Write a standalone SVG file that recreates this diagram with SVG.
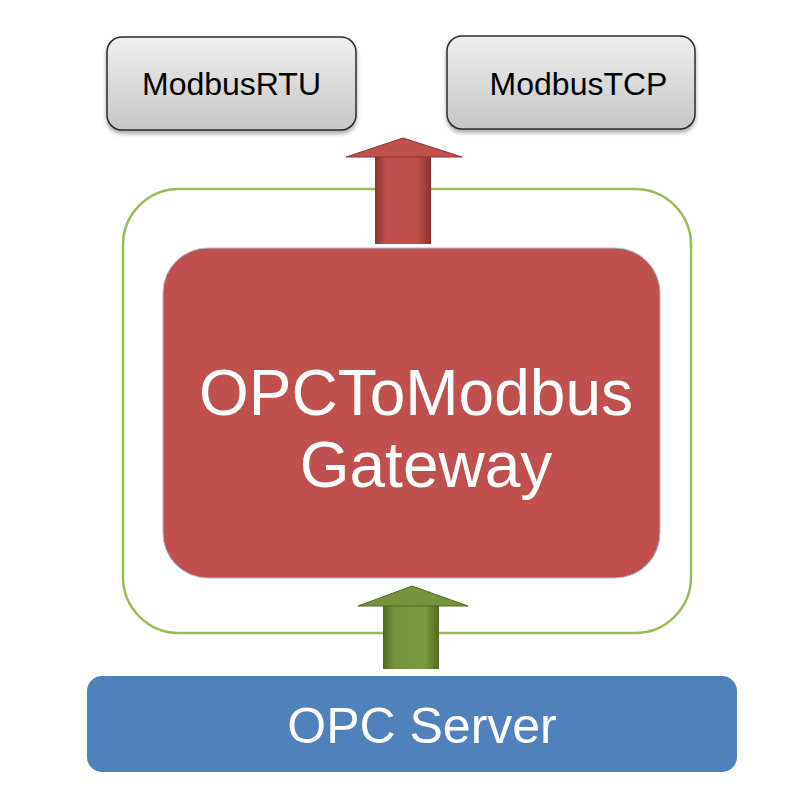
<svg xmlns="http://www.w3.org/2000/svg" width="800" height="800" viewBox="0 0 800 800">
<defs>
<linearGradient id="gray" x1="0" y1="0" x2="0" y2="1">
<stop offset="0" stop-color="#efefef"/>
<stop offset="1" stop-color="#c6c6c6"/>
</linearGradient>
<linearGradient id="redShaft" x1="0" y1="0" x2="1" y2="0">
<stop offset="0" stop-color="#8e3330"/>
<stop offset="0.2" stop-color="#c0504d"/>
<stop offset="0.75" stop-color="#c0504d"/>
<stop offset="1" stop-color="#8e3330"/>
</linearGradient>
<linearGradient id="greenShaft" x1="0" y1="0" x2="1" y2="0">
<stop offset="0" stop-color="#4f6b22"/>
<stop offset="0.2" stop-color="#76923c"/>
<stop offset="0.75" stop-color="#7a9a3c"/>
<stop offset="1" stop-color="#4f6b22"/>
</linearGradient>
<filter id="shadow" x="-10%" y="-10%" width="120%" height="130%">
<feDropShadow dx="0" dy="3" stdDeviation="2" flood-color="#000" flood-opacity="0.35"/>
</filter>
</defs>
<style>
.gbox{fill:url(#gray);stroke:#2b2b2b;stroke-width:1.5}
.gtxt{font-family:"Liberation Sans","Open Sans",sans-serif;font-size:32px;fill:#000;text-anchor:middle}
.wtxt{font-family:"Liberation Sans","Open Sans",sans-serif;fill:#fff;text-anchor:middle}
</style>
<rect width="800" height="800" fill="#fff"/>
<g id="container">
<rect x="123" y="189" width="568" height="444" rx="56" fill="#fff" stroke="#9bbb59" stroke-width="2.5"/>
</g>
<g id="connectors">
<g id="arrow-up-red">
<rect x="375" y="156" width="56" height="88" fill="url(#redShaft)"/>
<polygon points="346,157 403,138 462,157" fill="#c0504d" stroke="#8e3330" stroke-width="1"/>
</g>
<g id="arrow-up-green">
<rect x="383" y="605" width="56" height="64" fill="url(#greenShaft)"/>
<polygon points="358,606 412,586 468,606" fill="#76923c" stroke="#4f6b22" stroke-width="1"/>
</g>
</g>
<g id="modbusrtu">
<rect class="gbox" x="107" y="37" width="249" height="93" rx="15" filter="url(#shadow)"/>
<text class="gtxt" x="231.5" y="95">ModbusRTU</text>
</g>
<g id="modbustcp">
<rect class="gbox" x="447" y="36" width="248" height="93" rx="15" filter="url(#shadow)"/>
<text class="gtxt" x="578.5" y="95">ModbusTCP</text>
</g>
<g id="gateway">
<rect x="163" y="248" width="497" height="330" rx="45" fill="#c0504d" stroke="#a9bcd4" stroke-width="1"/>
<text class="wtxt" font-size="64"><tspan x="416" y="415">OPCToModbus</tspan><tspan x="426" y="487">Gateway</tspan></text>
</g>
<g id="opcserver">
<rect x="87" y="676" width="650" height="96" rx="15" fill="#4f81bd"/>
<text class="wtxt" x="422" y="743" font-size="50">OPC Server</text>
</g>
</svg>
